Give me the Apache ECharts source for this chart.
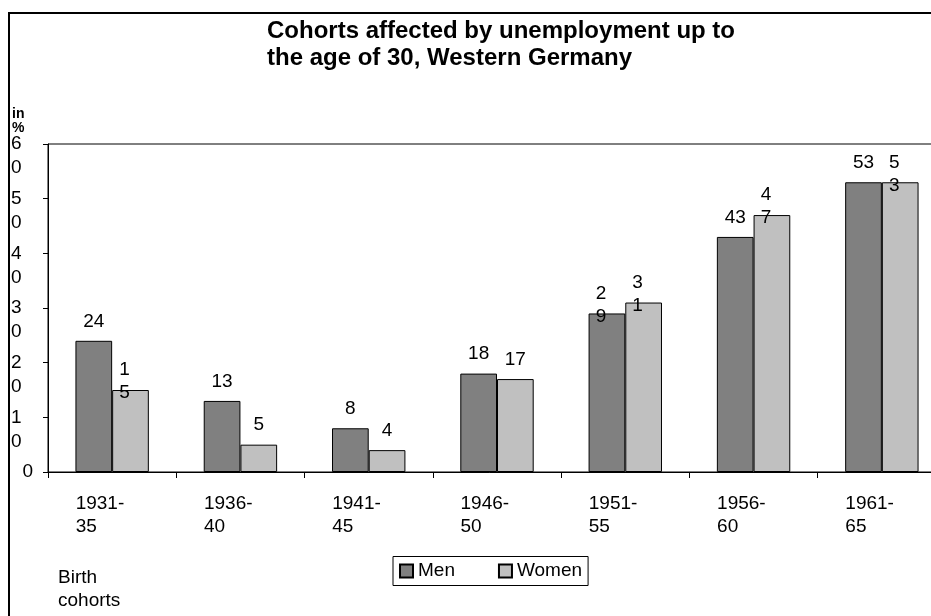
<!DOCTYPE html>
<html>
<head>
<meta charset="utf-8">
<script src="https://cdn.jsdelivr.net/npm/echarts@6/dist/echarts.min.js"></script>
<style>
html,body{margin:0;padding:0;background:#fff;}
#chart{width:931px;height:616px;}
</style>
</head>
<body>
<div id="chart"></div>
<script>
const categories = ['1931-35', '1936-40', '1941-45', '1946-50', '1951-55', '1956-60', '1961-65'];
const men = [24, 13, 8, 18, 29, 43, 53];
const women = [15, 5, 4, 17, 31, 47, 53];
const yTicks = [0, 10, 20, 30, 40, 50, 60];
const seriesNames = ['Men', 'Women'];
const titleText = 'Cohorts affected by unemployment up to\nthe age of 30, Western Germany';
const yUnit = 'in\n%';
const xName = 'Birth\ncohorts';

// labels that the original chart wraps digit by digit
const wrapMen = [4];
const wrapWomen = [0, 4, 5, 6];

const FONT = "'Liberation Sans', Arial, sans-serif";
const chart = echarts.init(document.getElementById('chart'));

function digits(v) { return String(v).split('').join('\n'); }
function buildData(vals, wrapIdx) {
  return vals.map((v, i) => wrapIdx.includes(i)
    ? { value: v, label: { formatter: digits(v), distance: -14.5, offset: [-6, 0] } }
    : v);
}

const labelStyle = {
  show: true, position: 'top', distance: 8, color: '#000',
  fontSize: 19, lineHeight: 23, fontFamily: FONT
};

chart.setOption({
  animation: false,
  backgroundColor: '#fff',
  textStyle: { fontFamily: FONT },
  title: {
    text: titleText, left: 267, top: 18, padding: 0,
    textStyle: { fontSize: 24, fontWeight: 'bold', lineHeight: 27, color: '#000', fontFamily: FONT }
  },
  legend: {
    data: seriesNames, left: 393, top: 556.5, orient: 'horizontal',
    padding: [3.5, 6, 3.5, 6], itemWidth: 13, itemHeight: 13, itemGap: 43,
    icon: 'rect', borderColor: '#000', borderWidth: 1,
    textStyle: { fontSize: 19, lineHeight: 22, color: '#000', fontFamily: FONT }
  },
  grid: {
    left: 48, top: 144, height: 328, width: 898,
    outerBoundsMode: 'none', containLabel: false,
    show: true, borderColor: '#000', borderWidth: 1, backgroundColor: 'transparent'
  },
  xAxis: {
    type: 'category', data: categories, boundaryGap: true,
    axisLine: { lineStyle: { color: '#000', width: 1 } },
    axisTick: { show: true, length: 6, lineStyle: { color: '#000' }, interval: 0 },
    axisLabel: {
      interval: 0, margin: 20, color: '#000', fontSize: 19, lineHeight: 23, fontFamily: FONT,
      verticalAlign: 'top',
      formatter: v => v.split('-').map((s, i, a) => '{a|' + s + (i < a.length - 1 ? '-' : '') + '}').join('\n'),
      rich: { a: { width: 73, align: 'left', fontSize: 19, lineHeight: 23, color: '#000', fontFamily: FONT } }
    },
    splitLine: { show: false }
  },
  yAxis: {
    type: 'value', min: yTicks[0], max: yTicks[yTicks.length - 1], interval: yTicks[1] - yTicks[0],
    axisLine: { show: true, lineStyle: { color: '#000', width: 1 } },
    axisTick: { show: true, length: 5, lineStyle: { color: '#000' } },
    splitLine: { show: false },
    axisLabel: {
      align: 'left', margin: 37, color: '#000', fontSize: 19, lineHeight: 24, fontFamily: FONT,
      verticalAlign: 'top', padding: [-12, 0, 0, 0],
      showMaxLabel: true, showMinLabel: true, hideOverlap: false,
      formatter: v => v === 0 ? '{z|0}' : digits(v),
      rich: { z: { padding: [0, 0, 0, 11.5], fontSize: 19, lineHeight: 24, color: '#000', fontFamily: FONT } }
    }
  },
  series: [
    {
      name: seriesNames[0], type: 'bar', data: buildData(men, wrapMen),
      barWidth: 36.7, barGap: '0%',
      itemStyle: { color: '#808080', borderColor: '#000', borderWidth: 1 },
      label: labelStyle
    },
    {
      name: seriesNames[1], type: 'bar', data: buildData(women, wrapWomen),
      barWidth: 36.7, barGap: '0%',
      itemStyle: { color: '#c0c0c0', borderColor: '#000', borderWidth: 1 },
      label: labelStyle
    }
  ],
  graphic: [
    {
      type: 'rect', silent: true,
      shape: { x: 9, y: 13, width: 1200, height: 1200 },
      style: { fill: 'none', stroke: '#000', lineWidth: 2 }
    },
    {
      type: 'text', left: 12, top: 107,
      style: { text: yUnit, font: 'bold 14px ' + FONT, lineHeight: 14, fill: '#000' }
    },
    {
      type: 'text', left: 58, top: 566,
      style: { text: xName, font: '19px ' + FONT, lineHeight: 23, fill: '#000' }
    }
  ]
});
</script>
</body>
</html>
